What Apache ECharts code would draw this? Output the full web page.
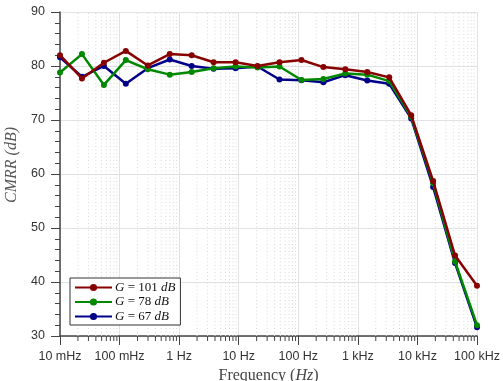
<!DOCTYPE html>
<html>
<head>
<meta charset="utf-8">
<script src="https://cdn.jsdelivr.net/npm/echarts@6/dist/echarts.min.js"></script>
<style>
  html, body { margin: 0; padding: 0; background: #fff; }
  #chart { width: 503px; height: 381px; }
</style>
</head>
<body>
<div id="chart"></div>
<script>
// Measurement frequencies (Hz), 20 log-spaced points from 10 mHz to 100 kHz
const freqHz = [0.01, 0.02336, 0.05456, 0.1274, 0.2976, 0.6952, 1.624, 3.793, 8.859, 20.69,
                48.33, 112.9, 263.7, 615.8, 1438, 3360, 7848, 18330, 42813, 100000];

// CMRR (dB) per gain setting
const cmrrG101 = [82.0, 77.7, 80.6, 82.8, 80.1, 82.2, 82.0, 80.7, 80.7, 80.0,
                  80.7, 81.1, 79.8, 79.4, 78.9, 77.9, 70.9, 58.7, 44.9, 39.3];
const cmrrG78  = [78.8, 82.2, 76.5, 81.1, 79.4, 78.4, 78.9, 79.6, 79.9, 79.7,
                  79.9, 77.4, 77.6, 78.6, 78.4, 77.2, 70.6, 58.3, 43.8, 32.0];
const cmrrG67  = [81.6, 78.0, 80.0, 76.7, 79.6, 81.2, 80.0, 79.5, 79.6, 79.9,
                  77.5, 77.35, 77.0, 78.3, 77.3, 76.7, 70.3, 57.6, 43.5, 31.6];

const seriesNames = ['G = 101 dB', 'G = 78 dB', 'G = 67 dB'];
const legendLabels = ['{i|G} = 101 {i|dB}', '{i|G} = 78 {i|dB}', '{i|G} = 67 {i|dB}'];

// Decade tick labels, 10^-2 .. 10^5 Hz
const xTickLabels = ['10 mHz', '100 mHz', '1 Hz', '10 Hz', '100 Hz', '1 kHz', '10 kHz', '100 kHz'];

const Y_MIN = 30, Y_MAX = 90;
const colors = ['#880000', '#008800', '#000088'];

// minor log ticks (2..9 within each decade)
const minorTicks = [];
for (let d = -2; d < 5; d++) {
  for (let k = 2; k <= 9; k++) minorTicks.push([k * Math.pow(10, d), Y_MIN]);
}

const chart = echarts.init(document.getElementById('chart'));

function pairs(vals) { return freqHz.map((f, i) => [f, vals[i]]); }

const lineSeries = [cmrrG101, cmrrG78, cmrrG67].map((vals, i) => ({
  name: seriesNames[i],
  type: 'line',
  data: pairs(vals),
  symbol: 'circle',
  symbolSize: 6,
  showSymbol: true,
  color: colors[i],
  lineStyle: { width: 2.5, color: colors[i] },
  itemStyle: { color: colors[i] },
  z: 10 - i,
  animation: false
}));

// dotted minor grid and minor ticks on the log frequency axis
const minorSeries = {
  type: 'custom',
  data: minorTicks,
  clip: false,
  silent: true,
  z: 1,
  animation: false,
  renderItem: function (params, api) {
    const x = api.value(0);
    const pBot = api.coord([x, Y_MIN]);
    const pTop = api.coord([x, Y_MAX]);
    return {
      type: 'group',
      children: [
        {
          type: 'line',
          shape: { x1: pBot[0], y1: pBot[1], x2: pTop[0], y2: pTop[1] },
          style: { stroke: '#d8d8d8', lineWidth: 1, lineDash: [1, 2.5] }
        },
        {
          type: 'line',
          shape: { x1: pBot[0], y1: pBot[1], x2: pBot[0], y2: pBot[1] + 5 },
          style: { stroke: '#444', lineWidth: 1 }
        }
      ]
    };
  }
};

chart.setOption({
  animation: false,
  backgroundColor: '#fff',
  grid: { left: 60, right: 26, top: 12, bottom: 45, containLabel: false, outerBoundsMode: 'none' },
  legend: {
    data: seriesNames,
    orient: 'vertical',
    left: 70,
    top: 278,
    itemWidth: 37,
    itemHeight: 9,
    itemGap: 1.5,
    padding: [3, 5, 2, 4],
    borderColor: '#333',
    borderWidth: 1,
    backgroundColor: '#fff',
    borderRadius: 0,
    formatter: function (name) { return legendLabels[seriesNames.indexOf(name)]; },
    textStyle: {
      fontFamily: 'Liberation Serif',
      fontSize: 13,
      color: '#111',
      padding: [0, 0, 0, -2],
      rich: { i: { fontFamily: 'Liberation Serif', fontStyle: 'italic', fontSize: 13, color: '#111' } }
    }
  },
  xAxis: {
    type: 'log',
    logBase: 10,
    min: 0.01,
    max: 100000,
    splitNumber: 7,
    name: 'Frequency ({i|Hz})',
    nameLocation: 'middle',
    nameGap: 31,
    nameTextStyle: {
      fontFamily: 'Liberation Serif', fontSize: 16, color: '#444',
      rich: { i: { fontFamily: 'Liberation Serif', fontStyle: 'italic', fontSize: 16, color: '#444' } }
    },
    axisLine: { show: true, onZero: false, lineStyle: { color: '#444', width: 1.5 } },
    axisTick: { show: true, length: 9, lineStyle: { color: '#444' } },
    axisLabel: {
      margin: 14,
      fontFamily: 'Liberation Sans',
      fontSize: 12.5,
      color: '#333',
      formatter: function (v) {
        const e = Math.round(Math.log10(v));
        return xTickLabels[e + 2] || '';
      }
    },
    splitLine: { show: true, lineStyle: { color: '#e2e2e2', width: 1 } }
  },
  yAxis: {
    type: 'value',
    min: Y_MIN,
    max: Y_MAX,
    interval: 10,
    name: 'CMRR (dB)',
    nameLocation: 'middle',
    nameGap: 37,
    nameTextStyle: { fontFamily: 'Liberation Serif', fontStyle: 'italic', fontSize: 16, color: '#555', padding: [0, 0, 0, 18] },
    axisLine: { show: true, lineStyle: { color: '#444', width: 1.5 } },
    axisTick: { show: true, length: 9, lineStyle: { color: '#444' } },
    minorTick: { show: true, splitNumber: 5, length: 5, lineStyle: { color: '#444' } },
    axisLabel: { margin: 15, fontFamily: 'Liberation Sans', fontSize: 12.5, color: '#333' },
    splitLine: { show: true, lineStyle: { color: '#e2e2e2', width: 1 } }
  },
  series: [minorSeries].concat(lineSeries)
});
</script>
</body>
</html>
